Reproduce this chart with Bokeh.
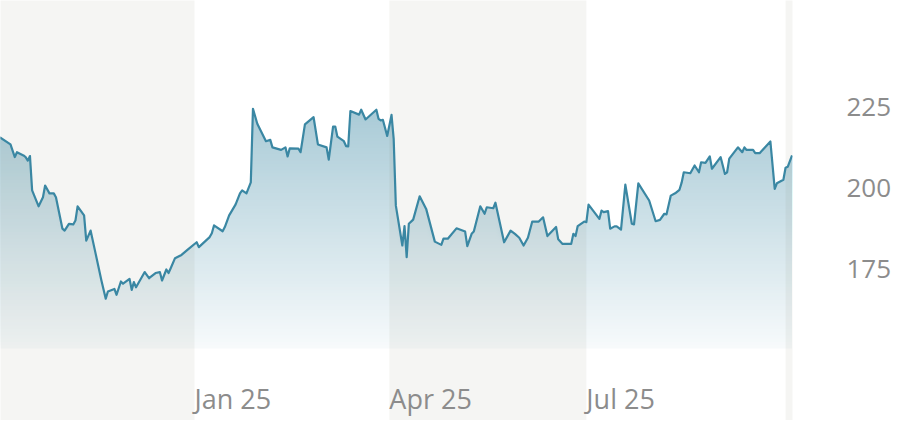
import numpy as np
import pandas as pd
from bokeh.plotting import figure
from bokeh.models import Range1d, FixedTicker, ColumnDataSource
from bokeh.core.properties import value
from bokeh.embed import file_html
from bokeh.resources import INLINE

dates = [
    "2024-10-03", "2024-10-08", "2024-10-10", "2024-10-11", "2024-10-14", "2024-10-15", "2024-10-16",
    "2024-10-17", "2024-10-18", "2024-10-21", "2024-10-23", "2024-10-24", "2024-10-26", "2024-10-28",
    "2024-10-29", "2024-11-01", "2024-11-02", "2024-11-04", "2024-11-06", "2024-11-07", "2024-11-08",
    "2024-11-11", "2024-11-12", "2024-11-14", "2024-11-16", "2024-11-19", "2024-11-21", "2024-11-22",
    "2024-11-25", "2024-11-26", "2024-11-28", "2024-11-29", "2024-12-02", "2024-12-03", "2024-12-04",
    "2024-12-05", "2024-12-09", "2024-12-11", "2024-12-14", "2024-12-16", "2024-12-17", "2024-12-19",
    "2024-12-20", "2024-12-21", "2024-12-23", "2024-12-26", "2024-12-29", "2025-01-02", "2025-01-03",
    "2025-01-08", "2025-01-09", "2025-01-10", "2025-01-14", "2025-01-15", "2025-01-17", "2025-01-20",
    "2025-01-22", "2025-01-23", "2025-01-25", "2025-01-27", "2025-01-28", "2025-01-30", "2025-02-03",
    "2025-02-05", "2025-02-06", "2025-02-10", "2025-02-12", "2025-02-13", "2025-02-14", "2025-02-18",
    "2025-02-19", "2025-02-21", "2025-02-25", "2025-02-27", "2025-03-03", "2025-03-04", "2025-03-06",
    "2025-03-07", "2025-03-08", "2025-03-11", "2025-03-12", "2025-03-13", "2025-03-14", "2025-03-18",
    "2025-03-19", "2025-03-21", "2025-03-26", "2025-03-27", "2025-03-28", "2025-03-29", "2025-03-31",
    "2025-04-02", "2025-04-03", "2025-04-04", "2025-04-07", "2025-04-08", "2025-04-09", "2025-04-10",
    "2025-04-12", "2025-04-15", "2025-04-18", "2025-04-22", "2025-04-25", "2025-04-26", "2025-04-28",
    "2025-05-02", "2025-05-06", "2025-05-07", "2025-05-09", "2025-05-10", "2025-05-13", "2025-05-15",
    "2025-05-16", "2025-05-19", "2025-05-20", "2025-05-24", "2025-05-27", "2025-05-29", "2025-05-31",
    "2025-06-02", "2025-06-04", "2025-06-06", "2025-06-09", "2025-06-11", "2025-06-13", "2025-06-17",
    "2025-06-18", "2025-06-20", "2025-06-24", "2025-06-25", "2025-06-26", "2025-06-27", "2025-06-30",
    "2025-07-01", "2025-07-02", "2025-07-07", "2025-07-08", "2025-07-09", "2025-07-11", "2025-07-12",
    "2025-07-14", "2025-07-15", "2025-07-17", "2025-07-19", "2025-07-22", "2025-07-23", "2025-07-25",
    "2025-07-30", "2025-08-02", "2025-08-04", "2025-08-06", "2025-08-07", "2025-08-09", "2025-08-11",
    "2025-08-13", "2025-08-14", "2025-08-15", "2025-08-18", "2025-08-20", "2025-08-22", "2025-08-23",
    "2025-08-25", "2025-08-27", "2025-08-28", "2025-09-01", "2025-09-03", "2025-09-04", "2025-09-05",
    "2025-09-09", "2025-09-11", "2025-09-12", "2025-09-13", "2025-09-16", "2025-09-17", "2025-09-19",
    "2025-09-24", "2025-09-26", "2025-09-27", "2025-09-30", "2025-10-01", "2025-10-02", "2025-10-04",
]
prices = [
    215.8, 213.6, 209.7, 211.2, 210.2, 209.7, 208.6,
    210.0, 199.4, 194.5, 197.3, 200.9, 198.5, 198.5,
    197.3, 187.6, 187.0, 189.1, 188.9, 190.1, 194.5,
    191.7, 183.9, 187.0, 180.9, 171.6, 166.0, 168.2,
    169.0, 167.2, 171.3, 170.6, 172.1, 168.7, 171.1,
    169.5, 174.2, 172.3, 173.9, 174.2, 171.6, 175.0,
    173.9, 175.4, 178.5, 179.5, 181.2, 183.4, 181.9,
    185.0, 186.2, 188.6, 186.8, 188.1, 191.7, 195.1,
    198.5, 199.4, 198.5, 201.9, 224.6, 220.0, 214.6,
    215.0, 212.7, 211.9, 212.7, 209.9, 212.4, 212.3,
    211.2, 219.8, 222.0, 213.6, 212.7, 208.9, 219.1,
    219.1, 216.0, 214.6, 213.1, 213.0, 223.9, 222.8,
    224.3, 221.3, 224.3, 221.5, 221.0, 221.2, 216.2,
    222.7, 215.3, 194.7, 182.4, 188.4, 178.8, 189.1,
    190.4, 197.6, 193.7, 183.6, 182.6, 184.5, 184.5,
    187.7, 186.7, 182.2, 186.0, 186.7, 194.5, 192.2,
    194.2, 193.9, 195.6, 183.4, 187.0, 186.0, 184.8,
    182.4, 184.8, 189.8, 189.8, 191.1, 185.3, 188.1,
    184.3, 182.9, 182.9, 186.0, 185.3, 188.4, 189.8,
    189.6, 195.0, 190.6, 193.2, 192.7, 193.0, 187.6,
    188.3, 188.3, 187.3, 201.2, 189.1, 188.9, 201.6,
    196.3, 189.9, 190.3, 192.2, 192.0, 197.8, 198.5,
    199.6, 201.8, 205.0, 204.7, 207.1, 205.0, 208.1,
    207.9, 209.9, 206.1, 209.7, 204.5, 205.0, 209.2,
    212.7, 211.2, 212.7, 211.9, 211.9, 210.9, 210.9,
    214.5, 199.9, 201.6, 202.7, 206.4, 206.7, 210.2,
]

quarter_labels = ["Jan 25", "Apr 25", "Jul 25"]
quarter_starts = ["2025-01-01", "2025-04-01", "2025-07-01"]
shaded_starts = ["2024-07-01", "2025-04-01", "2025-10-01"]
shaded_ends = ["2025-01-01", "2025-07-01", "2026-01-01"]
y_ticks = [175, 200, 225]

LINE = "#3a87a3"
TEAL = np.array([58, 135, 163])
TEXT = "#8c8c8c"
BASE = 150.6
A_BOT, A_TOP, V_TOP = 0.04, 0.44, 225.0


def shade(v):
    a = A_BOT + (A_TOP - A_BOT) * (v - BASE) / (V_TOP - BASE)
    c = 255 - a * (255 - TEAL)
    return "#%02x%02x%02x" % tuple(int(round(t)) for t in c)


x = pd.to_datetime(dates)
y = np.array(prices, dtype=float)

p = figure(
    width=894, height=420,
    x_axis_type="datetime", x_axis_location=None, y_axis_location="right",
    x_range=Range1d(pd.Timestamp("2024-10-03 09:20"), pd.Timestamp("2025-10-04 05:00")),
    y_range=Range1d(128.39, 258.02),
    output_backend="svg", toolbar_location=None,
    min_border_left=0, min_border_right=102, min_border_top=0, min_border_bottom=0,
)
p.outline_line_color = None
p.grid.visible = False
p.background_fill_color = "white"
p.border_fill_color = "white"

# gradient area: stacked opaque layers, each covering from its floor up to the price line
step = 1.0
p.varea(x=x, y1=BASE, y2=y, fill_color=shade(BASE + step / 2))
for lo in np.arange(BASE + step, y.max(), step):
    p.varea(x=x, y1=np.minimum(lo, y), y2=y, fill_color=shade(lo + step / 2))

# shaded quarters (translucent so the area tint shows through)
bands = ColumnDataSource(dict(left=pd.to_datetime(shaded_starts), right=pd.to_datetime(shaded_ends)))
p.quad(left="left", right="right", bottom=0, top=1000, source=bands,
       fill_color="#585837", fill_alpha=0.06, line_color=None)

p.line(x, y, line_color=LINE, line_width=2.2, line_join="round")

p.text(x=pd.to_datetime(quarter_starts), y=[135.2] * len(quarter_starts), text=quarter_labels,
       text_font=value("Open Sans"), text_font_size="27px", text_color=TEXT,
       text_align="left", text_baseline="middle")

ax = p.yaxis[0]
ax.ticker = FixedTicker(ticks=y_ticks)
ax.axis_line_color = None
ax.major_tick_line_color = None
ax.minor_tick_line_color = None
ax.major_tick_out = 0
ax.major_tick_in = 0
ax.major_label_standoff = 54
ax.major_label_text_font = "Open Sans"
ax.major_label_text_font_size = "26px"
ax.major_label_text_color = TEXT

open("out.html", "w").write(file_html(p, INLINE))
